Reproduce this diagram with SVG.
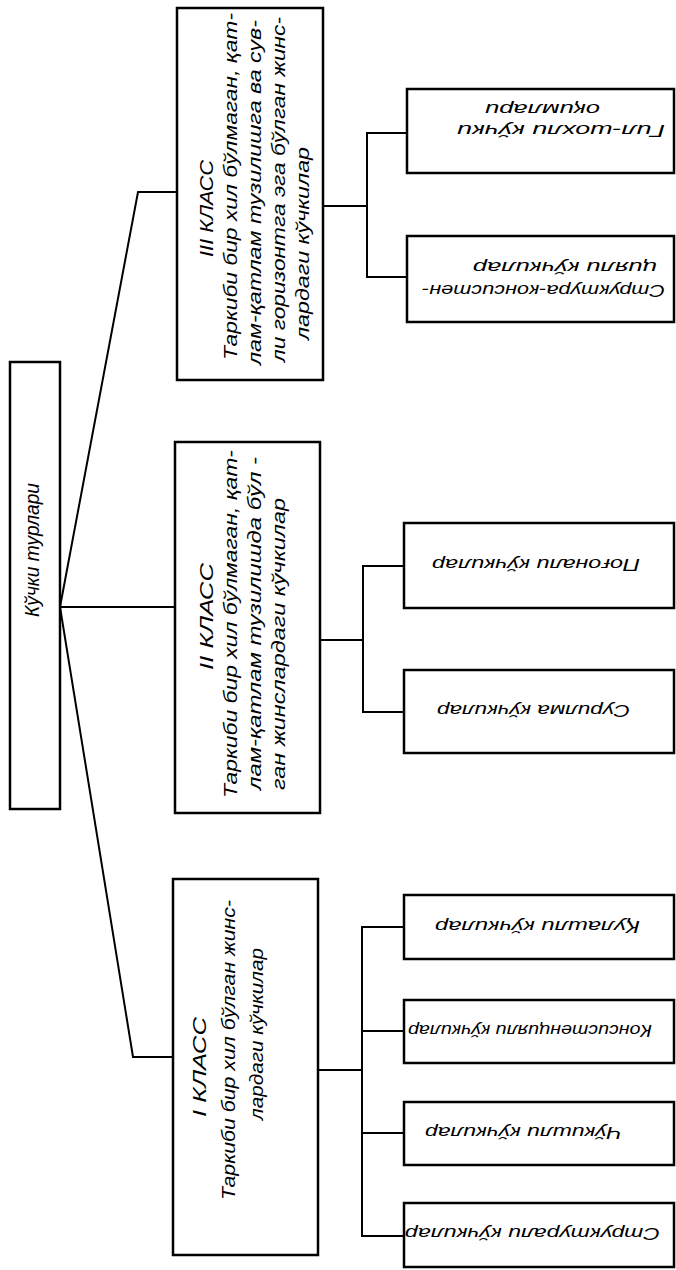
<svg xmlns="http://www.w3.org/2000/svg" width="676" height="1270" viewBox="0 0 676 1270">
<style>
.box{fill:#fff;stroke:#000;stroke-width:2.5}
.ln{fill:none;stroke:#000;stroke-width:2}
.t{font-family:"Liberation Sans","DejaVu Sans",sans-serif;font-style:italic;font-size:18px;fill:#000}
.rt{font-family:"Liberation Sans","DejaVu Sans",sans-serif;font-style:italic;font-size:21px;fill:#000}
.lt{font-family:"Liberation Sans","DejaVu Sans",sans-serif;font-style:italic;font-size:16px;fill:#000}
</style>
<rect width="676" height="1270" fill="#fff"/>
<g id="connectors">
<polyline class="ln" points="177,192 138,192 60,607 133,1057 173,1057"/>
<line class="ln" x1="60" y1="607" x2="175" y2="607"/>
<polyline class="ln" points="323,206 367,206"/>
<polyline class="ln" points="407,133 367,133 367,277 407,277"/>
<polyline class="ln" points="320,640 363,640"/>
<polyline class="ln" points="404,566 363,566 363,712 404,712"/>
<polyline class="ln" points="318,1070 362,1070"/>
<polyline class="ln" points="404,927 362,927 362,1236 404,1236"/>
<line class="ln" x1="362" y1="1031" x2="404" y2="1031"/>
<line class="ln" x1="362" y1="1133" x2="404" y2="1133"/>
</g>
<g id="root">
<rect class="box" x="10" y="362" width="50" height="447"/>
<text class="rt" transform="translate(39,617) rotate(-90)" textLength="134" lengthAdjust="spacingAndGlyphs">Кўчки турлари</text>
</g>
<g id="class3">
<rect class="box" x="177" y="8" width="146" height="372"/>
<text class="t" transform="translate(213,257) rotate(-90)" textLength="97" lengthAdjust="spacingAndGlyphs">III КЛАСС</text>
<text class="t" transform="translate(237,360) rotate(-90)" textLength="347" lengthAdjust="spacingAndGlyphs">Таркиби бир хил бўлмаган, қат-</text>
<text class="t" transform="translate(261,365) rotate(-90)" textLength="345" lengthAdjust="spacingAndGlyphs">лам-қатлам тузилишга ва сув-</text>
<text class="t" transform="translate(285,362) rotate(-90)" textLength="345" lengthAdjust="spacingAndGlyphs">ли горизонтга эга бўлган жинс-</text>
<text class="t" transform="translate(309,340) rotate(-90)" textLength="193" lengthAdjust="spacingAndGlyphs">лардаги кўчкилар</text>
</g>
<g id="class2">
<rect class="box" x="175" y="442" width="145" height="371"/>
<text class="t" transform="translate(213,670) rotate(-90)" textLength="107" lengthAdjust="spacingAndGlyphs">II КЛАСС</text>
<text class="t" transform="translate(237,798) rotate(-90)" textLength="348" lengthAdjust="spacingAndGlyphs">Таркиби бир хил бўлмаган, қат-</text>
<text class="t" transform="translate(261,790) rotate(-90)" textLength="333" lengthAdjust="spacingAndGlyphs">лам-қатлам тузилишда бўл -</text>
<text class="t" transform="translate(285,790) rotate(-90)" textLength="292" lengthAdjust="spacingAndGlyphs">ган жинслардаги кўчкилар</text>
</g>
<g id="class1">
<rect class="box" x="173" y="879" width="145" height="376"/>
<text class="t" transform="translate(206,1117) rotate(-90)" textLength="100" lengthAdjust="spacingAndGlyphs">I КЛАСС</text>
<text class="t" transform="translate(235,1200) rotate(-90)" textLength="300" lengthAdjust="spacingAndGlyphs">Таркиби бир хил бўлган жинс-</text>
<text class="t" transform="translate(263,1120) rotate(-90)" textLength="172" lengthAdjust="spacingAndGlyphs">лардаги кўчкилар</text>
</g>
<g id="leaf3a">
<rect class="box" x="407" y="89" width="267" height="84"/>
<text class="lt" transform="translate(665,125) rotate(180)" textLength="208" lengthAdjust="spacingAndGlyphs">Гил-шохли кўчки</text>
<text class="lt" transform="translate(600,104) rotate(180)" textLength="115" lengthAdjust="spacingAndGlyphs">оқимлари</text>
</g>
<g id="leaf3b">
<rect class="box" x="407" y="236" width="267" height="86"/>
<text class="lt" transform="translate(665,285) rotate(180)" textLength="243" lengthAdjust="spacingAndGlyphs">Структура-консистен-</text>
<text class="lt" transform="translate(657,262) rotate(180)" textLength="184" lengthAdjust="spacingAndGlyphs">цияли кўчкилар</text>
</g>
<g id="leaf2a">
<rect class="box" x="404" y="523" width="270" height="85"/>
<text class="lt" transform="translate(640,559) rotate(180)" textLength="208" lengthAdjust="spacingAndGlyphs">Поғонали кўчкилар</text>
</g>
<g id="leaf2b">
<rect class="box" x="404" y="670" width="270" height="83"/>
<text class="lt" transform="translate(630,705) rotate(180)" textLength="193" lengthAdjust="spacingAndGlyphs">Сурилма кўчкилар</text>
</g>
<g id="leaf1a">
<rect class="box" x="404" y="895" width="270" height="64"/>
<text class="lt" transform="translate(640,921) rotate(180)" textLength="205" lengthAdjust="spacingAndGlyphs">Қулашли кўчкилар</text>
</g>
<g id="leaf1b">
<rect class="box" x="404" y="1000" width="270" height="63"/>
<text class="lt" transform="translate(652,1025) rotate(180)" textLength="244" lengthAdjust="spacingAndGlyphs">Консистенцияли кўчкилар</text>
</g>
<g id="leaf1c">
<rect class="box" x="404" y="1102" width="270" height="63"/>
<text class="lt" transform="translate(622,1127) rotate(180)" textLength="197" lengthAdjust="spacingAndGlyphs">Чўкишли кўчкилар</text>
</g>
<g id="leaf1d">
<rect class="box" x="404" y="1203" width="270" height="64"/>
<text class="lt" transform="translate(660,1228) rotate(180)" textLength="255" lengthAdjust="spacingAndGlyphs">Структурали кўчкилар</text>
</g>
</svg>
